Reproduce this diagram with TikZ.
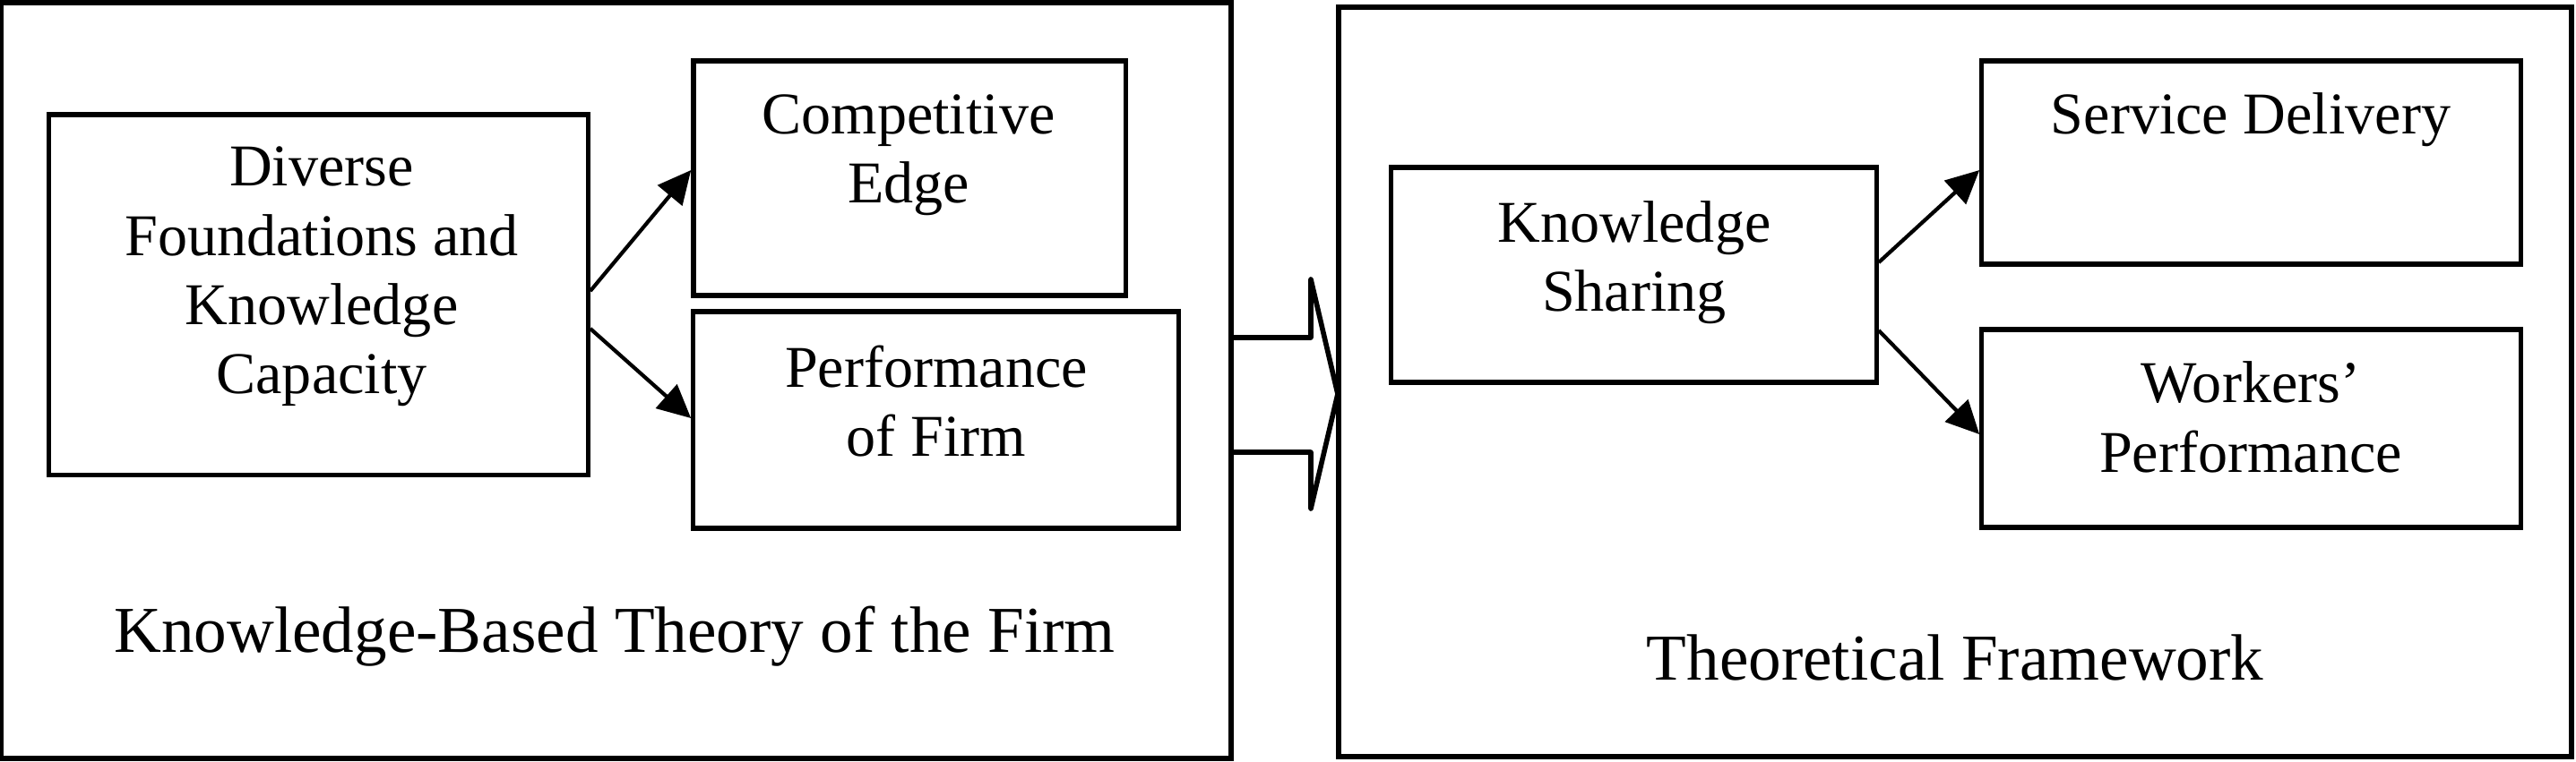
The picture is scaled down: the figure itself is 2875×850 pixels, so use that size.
\documentclass[tikz,border=0pt]{standalone}
\usepackage{fontspec}
\setmainfont{Liberation Serif}
\usetikzlibrary{arrows.meta,calc}
\begin{document}
\begin{tikzpicture}[x=0.01cm,y=-0.01cm,
 panel/.style={draw,line width=1.6pt},
 boxn/.style={draw,line width=1.5pt,inner sep=0pt},
 lbl/.style={align=center,font=\fontsize{18.8}{22}\selectfont,inner sep=0pt},
 ttl/.style={font=\fontsize{20.8}{25}\selectfont,inner sep=0pt},
 conn/.style={line width=1.2pt,-{Triangle[length=10.5pt,width=10pt]}}]
\useasboundingbox (0,0) rectangle (2875,850);
% panels
\draw[panel] (1,3) rectangle (1374,847);
\draw[panel] (1494,8) rectangle (2870,845);
% big arrow between panels
\draw[line width=1.6pt,line join=round] (1374,377) -- (1463,377) -- (1463,312) -- (1493,440) -- (1463,568) -- (1463,505) -- (1374,505);
% boxes
\node[boxn,minimum width=6.01cm,minimum height=4.02cm] (dfk) at (355.5,329) {};
\node[boxn,minimum width=4.82cm,minimum height=2.62cm] (comp) at (1015,199) {};
\node[boxn,minimum width=5.41cm,minimum height=2.42cm] (perf) at (1044.5,469) {};
\node[boxn,minimum width=5.41cm,minimum height=2.40cm] (ks) at (1823.5,307) {};
\node[boxn,minimum width=6.01cm,minimum height=2.27cm] (serv) at (2512.5,181.5) {};
\node[boxn,minimum width=6.01cm,minimum height=2.21cm] (work) at (2512.5,478.5) {};
% labels
\node[lbl] (tdfk) at (359,309) {Diverse\\Foundations and\\Knowledge\\Capacity};
\node[lbl] (tcomp) at (1014,173) {Competitive\\Edge};
\node[lbl] (tperf) at (1045,448) {Performance\\of Firm};
\node[lbl] (tks) at (1824,293) {Knowledge\\Sharing};
\node[lbl] (tserv) at (2512,134) {Service Delivery};
\node[lbl] (twork) at (2512,466) {Workers’\\Performance};
\node[ttl] (t1) at (686,711) {Knowledge-Based Theory of the Firm};
\node[ttl] (t2) at (2182,734) {Theoretical Framework};
% connectors
\draw[conn] ($(dfk.east)+(0,-4)$) -- ($(comp.west)+(0,-9)$);
\draw[conn] ($(dfk.east)+(0,38)$) -- ($(perf.west)+(0,-2)$);
\draw[conn] ($(ks.east)+(0,-14)$) -- ($(serv.west)+(0,8.5)$);
\draw[conn] ($(ks.east)+(0,62)$) -- ($(work.west)+(0,6.5)$);
\end{tikzpicture}
\end{document}
